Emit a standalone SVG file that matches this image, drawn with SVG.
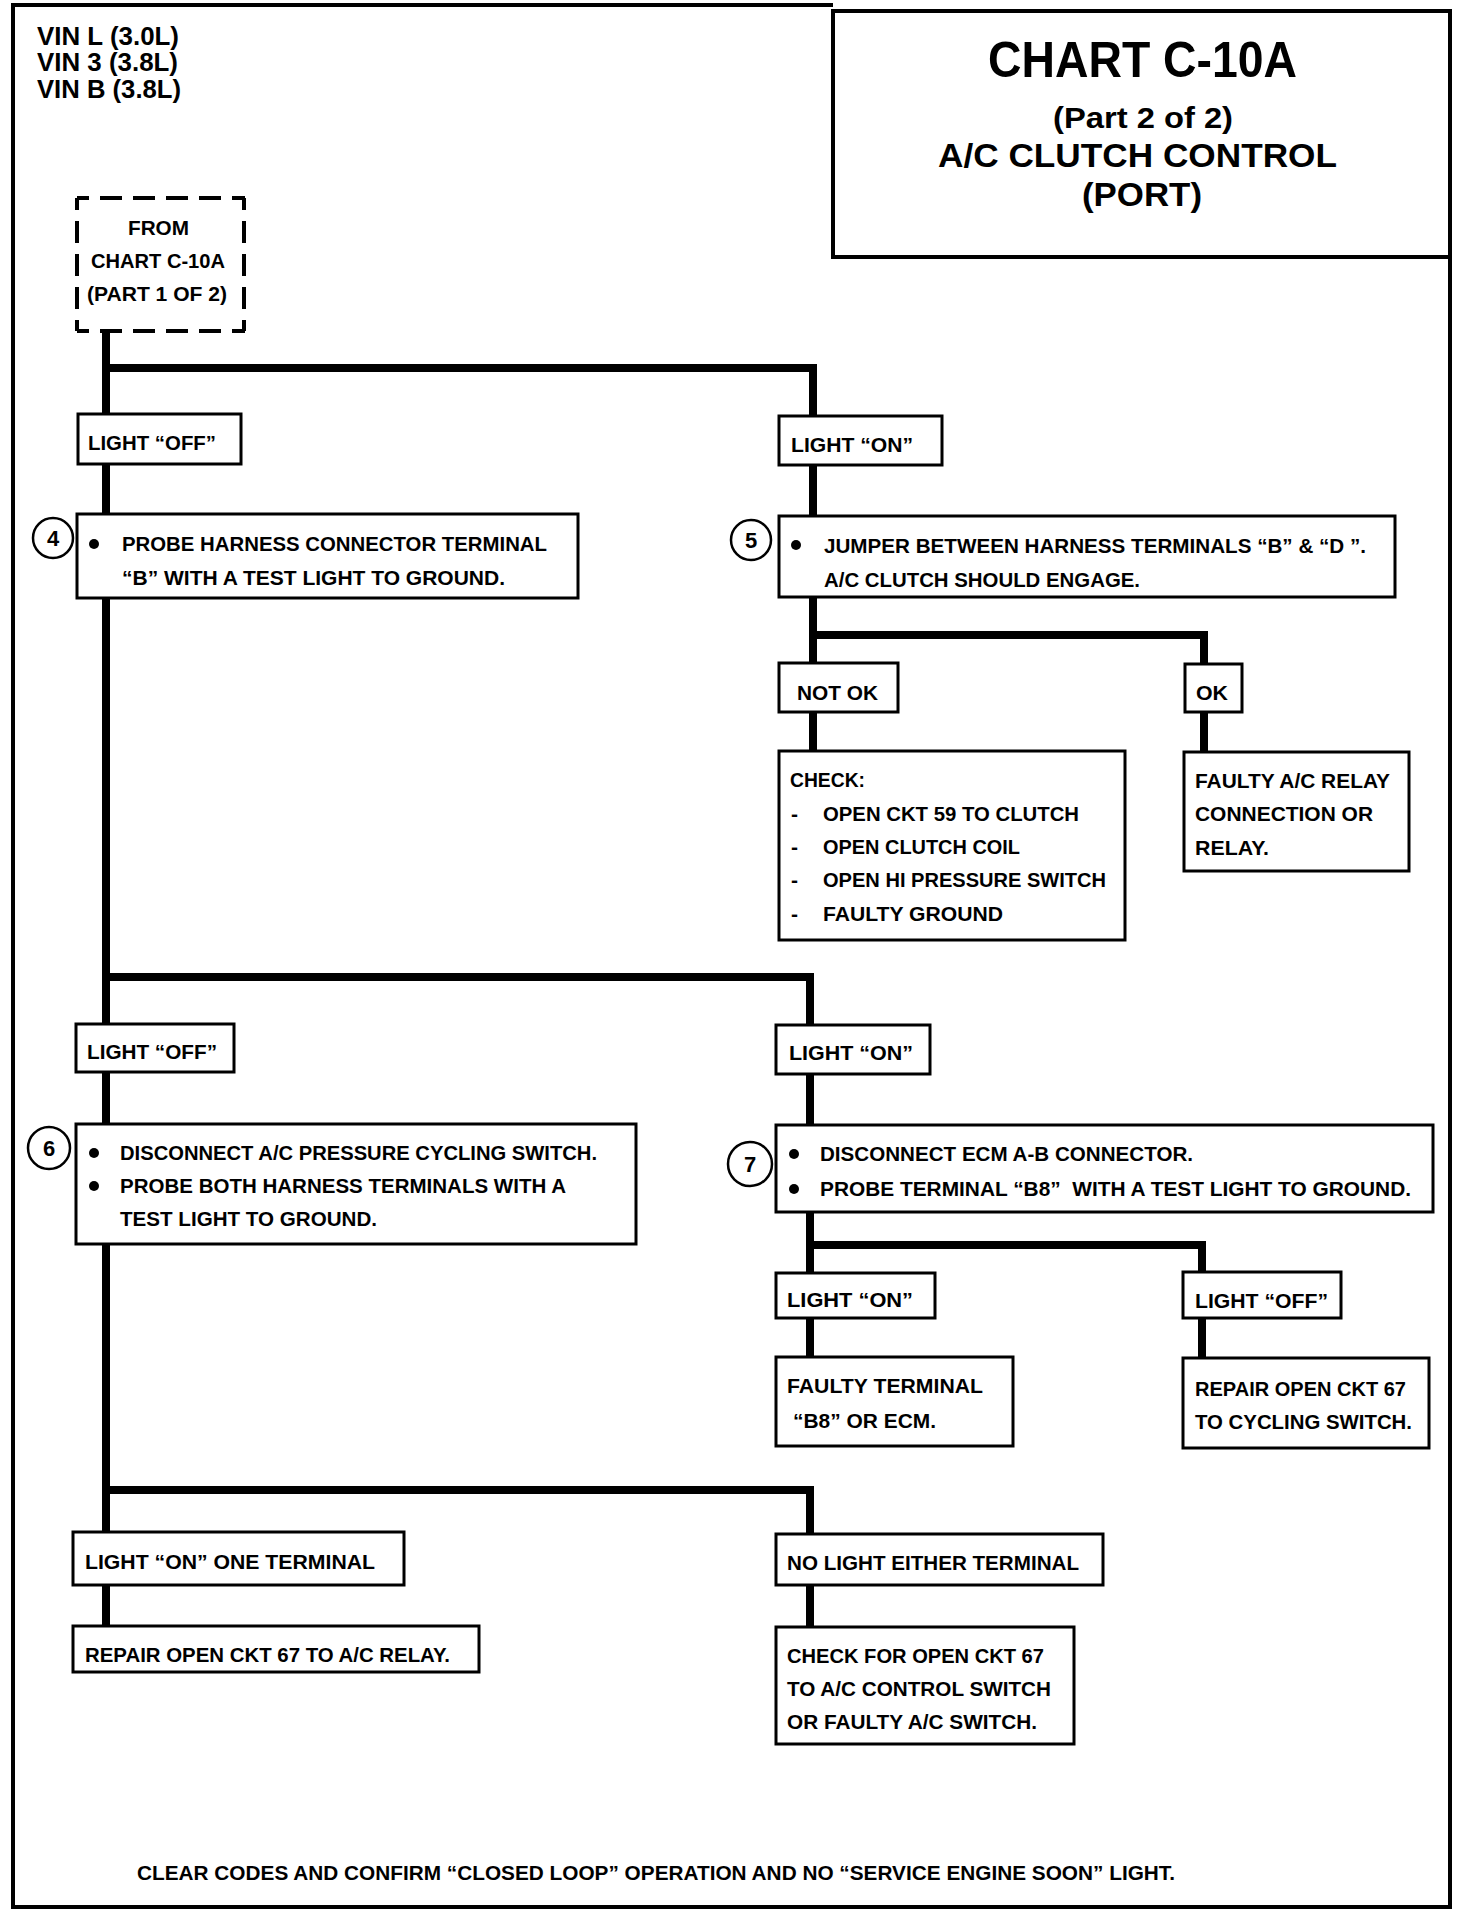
<svg xmlns="http://www.w3.org/2000/svg" width="1472" height="1914" viewBox="0 0 1472 1914">
<style>
.frame{fill:none;stroke:#000;stroke-width:4}
.box{fill:#fff;stroke:#000;stroke-width:3}
.dash{fill:none;stroke:#000;stroke-width:4;stroke-dasharray:22 11;stroke-dashoffset:10}
.conn{fill:none;stroke:#000;stroke-width:8;stroke-linejoin:miter;stroke-linecap:butt}
.num{fill:#fff;stroke:#000;stroke-width:2.5}
.t{font-family:"Liberation Sans",Arial,sans-serif;font-weight:bold;font-size:21px;fill:#000}
.tn{font-family:"Liberation Sans",Arial,sans-serif;font-weight:bold;font-size:22px;fill:#000;text-anchor:middle}
.vin{font-family:"Liberation Sans",Arial,sans-serif;font-weight:bold;font-size:25px;fill:#000}
.ttl{font-family:"Liberation Sans",Arial,sans-serif;font-weight:bold;fill:#000}
</style>
<rect x="0" y="0" width="1472" height="1914" fill="#fff"/>
<g id="frame">
<path class="frame" d="M833,5 H13 V1907 H1450 V11"/>
</g>
<g id="vin">
<text class="vin" x="37" y="45" textLength="142" lengthAdjust="spacingAndGlyphs">VIN L (3.0L)</text>
<text class="vin" x="37" y="71" textLength="141" lengthAdjust="spacingAndGlyphs">VIN 3 (3.8L)</text>
<text class="vin" x="37" y="98" textLength="144" lengthAdjust="spacingAndGlyphs">VIN B (3.8L)</text>
</g>
<g id="title">
<rect class="frame" x="833" y="11" width="617" height="246"/>
<text class="ttl" x="988" y="77" font-size="50" textLength="309" lengthAdjust="spacingAndGlyphs">CHART C-10A</text>
<text class="ttl" x="1053" y="128" font-size="30" textLength="180" lengthAdjust="spacingAndGlyphs">(Part 2 of 2)</text>
<text class="ttl" x="938" y="167" font-size="34" textLength="399" lengthAdjust="spacingAndGlyphs">A/C CLUTCH CONTROL</text>
<text class="ttl" x="1082" y="206" font-size="34" textLength="120" lengthAdjust="spacingAndGlyphs">(PORT)</text>
</g>
<g id="connectors">
<path class="conn" d="M106,331 V1626"/>
<path class="conn" d="M106,368 H813 V751"/>
<path class="conn" d="M813,635 H1204 V752"/>
<path class="conn" d="M106,977 H810 V1357"/>
<path class="conn" d="M810,1245 H1202 V1358"/>
<path class="conn" d="M106,1490 H810 V1627"/>
</g>
<g id="from">
<rect x="77" y="198" width="167" height="133" fill="#fff"/>
<line class="dash" x1="77" y1="198" x2="245" y2="198"/>
<line class="dash" x1="77" y1="331" x2="245" y2="331"/>
<line class="dash" x1="77" y1="198" x2="77" y2="331"/>
<line class="dash" x1="244" y1="198" x2="244" y2="331"/>
<text class="t" x="128" y="235" font-size="20" textLength="61" lengthAdjust="spacingAndGlyphs">FROM</text>
<text class="t" x="91" y="268" font-size="20" textLength="134" lengthAdjust="spacingAndGlyphs">CHART C-10A</text>
<text class="t" x="87" y="301" font-size="20" textLength="140" lengthAdjust="spacingAndGlyphs">(PART 1 OF 2)</text>
</g>
<g id="n-off1">
<rect class="box" x="78" y="414" width="163" height="50"/>
<text class="t" x="88" y="450" textLength="128" lengthAdjust="spacingAndGlyphs">LIGHT “OFF”</text>
</g>
<g id="n-on1">
<rect class="box" x="779" y="416" width="163" height="49"/>
<text class="t" x="791" y="452" textLength="122" lengthAdjust="spacingAndGlyphs">LIGHT “ON”</text>
</g>
<g id="n-step4">
<rect class="box" x="77" y="514" width="501" height="84"/>
<circle class="num" cx="53" cy="538" r="20"/>
<text class="tn" x="53" y="546">4</text>
<circle cx="94" cy="544" r="5"/>
<text class="t" x="122" y="551" textLength="425" lengthAdjust="spacingAndGlyphs">PROBE HARNESS CONNECTOR TERMINAL</text>
<text class="t" x="122" y="585" textLength="383" lengthAdjust="spacingAndGlyphs">“B” WITH A TEST LIGHT TO GROUND.</text>
</g>
<g id="n-step5">
<rect class="box" x="779" y="516" width="616" height="81"/>
<circle class="num" cx="751" cy="540" r="20"/>
<text class="tn" x="751" y="548">5</text>
<circle cx="796" cy="545" r="5"/>
<text class="t" x="824" y="553" textLength="542" lengthAdjust="spacingAndGlyphs">JUMPER BETWEEN HARNESS TERMINALS “B” &amp; “D ”.</text>
<text class="t" x="824" y="587" textLength="316" lengthAdjust="spacingAndGlyphs">A/C CLUTCH SHOULD ENGAGE.</text>
</g>
<g id="n-notok">
<rect class="box" x="779" y="663" width="119" height="49"/>
<text class="t" x="797" y="700" textLength="81" lengthAdjust="spacingAndGlyphs">NOT OK</text>
</g>
<g id="n-ok">
<rect class="box" x="1185" y="664" width="57" height="48"/>
<text class="t" x="1196" y="700" textLength="32" lengthAdjust="spacingAndGlyphs">OK</text>
</g>
<g id="n-check">
<rect class="box" x="779" y="751" width="346" height="189"/>
<text class="t" x="790" y="787" textLength="75" lengthAdjust="spacingAndGlyphs">CHECK:</text>
<text class="t" x="791" y="821">-</text>
<text class="t" x="823" y="821" textLength="256" lengthAdjust="spacingAndGlyphs">OPEN CKT 59 TO CLUTCH</text>
<text class="t" x="791" y="854">-</text>
<text class="t" x="823" y="854" textLength="197" lengthAdjust="spacingAndGlyphs">OPEN CLUTCH COIL</text>
<text class="t" x="791" y="887">-</text>
<text class="t" x="823" y="887" textLength="283" lengthAdjust="spacingAndGlyphs">OPEN HI PRESSURE SWITCH</text>
<text class="t" x="791" y="921">-</text>
<text class="t" x="823" y="921" textLength="180" lengthAdjust="spacingAndGlyphs">FAULTY GROUND</text>
</g>
<g id="n-relay">
<rect class="box" x="1184" y="752" width="225" height="119"/>
<text class="t" x="1195" y="788" textLength="195" lengthAdjust="spacingAndGlyphs">FAULTY A/C RELAY</text>
<text class="t" x="1195" y="821" textLength="178" lengthAdjust="spacingAndGlyphs">CONNECTION OR</text>
<text class="t" x="1195" y="855" textLength="74" lengthAdjust="spacingAndGlyphs">RELAY.</text>
</g>
<g id="n-off2">
<rect class="box" x="76" y="1024" width="158" height="48"/>
<text class="t" x="87" y="1059" textLength="130" lengthAdjust="spacingAndGlyphs">LIGHT “OFF”</text>
</g>
<g id="n-on2">
<rect class="box" x="776" y="1025" width="154" height="49"/>
<text class="t" x="789" y="1060" textLength="124" lengthAdjust="spacingAndGlyphs">LIGHT “ON”</text>
</g>
<g id="n-step6">
<rect class="box" x="76" y="1124" width="560" height="120"/>
<circle class="num" cx="49" cy="1148" r="21"/>
<text class="tn" x="49" y="1156">6</text>
<circle cx="94" cy="1153" r="5"/>
<circle cx="94" cy="1186" r="5"/>
<text class="t" x="120" y="1160" textLength="477" lengthAdjust="spacingAndGlyphs">DISCONNECT A/C PRESSURE CYCLING SWITCH.</text>
<text class="t" x="120" y="1193" textLength="446" lengthAdjust="spacingAndGlyphs">PROBE BOTH HARNESS TERMINALS WITH A</text>
<text class="t" x="120" y="1226" textLength="257" lengthAdjust="spacingAndGlyphs">TEST LIGHT TO GROUND.</text>
</g>
<g id="n-step7">
<rect class="box" x="776" y="1125" width="657" height="87"/>
<circle class="num" cx="750" cy="1164" r="22"/>
<text class="tn" x="750" y="1172">7</text>
<circle cx="794" cy="1154" r="5"/>
<circle cx="794" cy="1189" r="5"/>
<text class="t" x="820" y="1161" textLength="373" lengthAdjust="spacingAndGlyphs">DISCONNECT ECM A-B CONNECTOR.</text>
<text class="t" x="820" y="1196" textLength="591" lengthAdjust="spacingAndGlyphs" xml:space="preserve">PROBE TERMINAL “B8”  WITH A TEST LIGHT TO GROUND.</text>
</g>
<g id="n-on3">
<rect class="box" x="776" y="1273" width="159" height="45"/>
<text class="t" x="787" y="1307" textLength="126" lengthAdjust="spacingAndGlyphs">LIGHT “ON”</text>
</g>
<g id="n-off3">
<rect class="box" x="1183" y="1272" width="158" height="46"/>
<text class="t" x="1195" y="1308" textLength="133" lengthAdjust="spacingAndGlyphs">LIGHT “OFF”</text>
</g>
<g id="n-faultyterm">
<rect class="box" x="776" y="1357" width="237" height="89"/>
<text class="t" x="787" y="1393" textLength="196" lengthAdjust="spacingAndGlyphs">FAULTY TERMINAL</text>
<text class="t" x="793" y="1428" textLength="143" lengthAdjust="spacingAndGlyphs">“B8” OR ECM.</text>
</g>
<g id="n-repaircycling">
<rect class="box" x="1183" y="1358" width="246" height="90"/>
<text class="t" x="1195" y="1396" textLength="211" lengthAdjust="spacingAndGlyphs">REPAIR OPEN CKT 67</text>
<text class="t" x="1195" y="1429" textLength="217" lengthAdjust="spacingAndGlyphs">TO CYCLING SWITCH.</text>
</g>
<g id="n-oneterm">
<rect class="box" x="73" y="1532" width="331" height="53"/>
<text class="t" x="85" y="1569" textLength="290" lengthAdjust="spacingAndGlyphs">LIGHT “ON” ONE TERMINAL</text>
</g>
<g id="n-repairrelay">
<rect class="box" x="73" y="1626" width="406" height="46"/>
<text class="t" x="85" y="1662" textLength="365" lengthAdjust="spacingAndGlyphs">REPAIR OPEN CKT 67 TO A/C RELAY.</text>
</g>
<g id="n-nolight">
<rect class="box" x="776" y="1534" width="327" height="51"/>
<text class="t" x="787" y="1570" textLength="292" lengthAdjust="spacingAndGlyphs">NO LIGHT EITHER TERMINAL</text>
</g>
<g id="n-checkopen">
<rect class="box" x="776" y="1627" width="298" height="117"/>
<text class="t" x="787" y="1663" textLength="257" lengthAdjust="spacingAndGlyphs">CHECK FOR OPEN CKT 67</text>
<text class="t" x="787" y="1696" textLength="264" lengthAdjust="spacingAndGlyphs">TO A/C CONTROL SWITCH</text>
<text class="t" x="787" y="1729" textLength="250" lengthAdjust="spacingAndGlyphs">OR FAULTY A/C SWITCH.</text>
</g>
<g id="footer">
<text class="t" x="137" y="1880" textLength="1038" lengthAdjust="spacingAndGlyphs">CLEAR CODES AND CONFIRM “CLOSED LOOP” OPERATION AND NO “SERVICE ENGINE SOON” LIGHT.</text>
</g>
</svg>
